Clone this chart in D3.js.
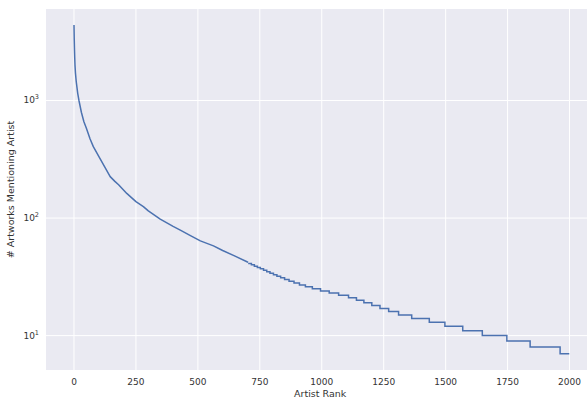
<!DOCTYPE html>
<html>
<head>
<meta charset="utf-8">
<script src="https://cdn.jsdelivr.net/npm/d3@7"></script>
<style>
  html, body { margin: 0; padding: 0; background: #ffffff; }
  svg { display: block; font-family: "DejaVu Sans", sans-serif; }
</style>
</head>
<body>
<svg id="chart" width="587" height="400"></svg>
<script>
// ---- data ----
// smooth head of the curve: artist rank and artwork count
const headRank  = [0, 1, 2, 3, 4, 6, 9, 15, 20, 30, 40, 50, 65, 78, 100, 125, 146, 165, 180, 213, 250, 280, 300, 348, 400, 429, 470, 510, 563, 600, 650, 698, 703];
const headCount = [4390, 3300, 2700, 2300, 2000, 1700, 1450, 1150, 1000, 790, 660, 580, 470, 405, 335, 270, 225, 205, 192, 162, 138, 125, 115, 98, 85, 79, 71, 64, 58, 53, 47.5, 42.5, 42];
// stepped tail: integer count and the rank where that count starts
const tailCount = [41, 40, 39, 38, 37, 36, 35, 34, 33, 32, 31, 30, 29, 28, 27, 26, 25, 24, 23, 22, 21, 20, 19, 18, 17, 16, 15, 14, 13, 12, 11, 10, 9, 8, 7];
const tailStart = [703, 716, 728, 740, 752, 765, 778, 791, 805, 819, 834, 850, 868, 888, 910, 934, 962, 995, 1030, 1068, 1108, 1140, 1170, 1202, 1235, 1270, 1310, 1363, 1434, 1497, 1569, 1648, 1747, 1841, 1962];
const lastRank = 1999;

const xTicks = [0, 250, 500, 750, 1000, 1250, 1500, 1750, 2000];
const yTicks = [10, 100, 1000];
const yTickExp = ["1", "2", "3"];
const xLabel = "Artist Rank";
const yLabel = "# Artworks Mentioning Artist";

// ---- layout ----
const svg = d3.select("#chart");
const W = 587, H = 400;
const panel = { left: 46, top: 9, bottom: 370 };

const x = d3.scaleLinear().domain([-113, 2100]).range([panel.left, 594.3]);
const y = d3.scaleLog().domain([5.1, 6000]).range([panel.bottom, panel.top]);

const g = svg.append("g");

// panel background
g.append("rect")
  .attr("x", panel.left).attr("y", panel.top)
  .attr("width", W - panel.left + 10).attr("height", panel.bottom - panel.top)
  .attr("fill", "#EAEAF2");

// grid
g.selectAll(".vgrid").data(xTicks).enter().append("line")
  .attr("x1", d => x(d)).attr("x2", d => x(d))
  .attr("y1", panel.top).attr("y2", panel.bottom)
  .attr("stroke", "#ffffff").attr("stroke-width", 1);
g.selectAll(".hgrid").data(yTicks).enter().append("line")
  .attr("x1", panel.left).attr("x2", W)
  .attr("y1", d => y(d)).attr("y2", d => y(d))
  .attr("stroke", "#ffffff").attr("stroke-width", 1);

// x tick labels
g.selectAll(".xt").data(xTicks).enter().append("text")
  .attr("x", d => x(d)).attr("y", 385)
  .attr("text-anchor", "middle")
  .attr("font-size", 9).attr("fill", "#333333")
  .text(d => d);

// y tick labels with superscript exponent
const yt = g.selectAll(".yt").data(yTicks).enter().append("text")
  .attr("x", 39).attr("y", d => y(d) + 3)
  .attr("text-anchor", "end")
  .attr("font-size", 9).attr("fill", "#333333");
yt.append("tspan").text("10");
yt.append("tspan").attr("dy", -4).attr("font-size", 6.5).text((d, i) => yTickExp[i]);

// axis labels
g.append("text")
  .attr("x", (panel.left + 594.3) / 2).attr("y", 397)
  .attr("text-anchor", "middle").attr("font-size", 9.5).attr("fill", "#333333")
  .text(xLabel);
g.append("text")
  .attr("transform", `translate(14,${(panel.top + panel.bottom) / 2}) rotate(-90)`)
  .attr("text-anchor", "middle").attr("font-size", 9.5).attr("fill", "#333333")
  .text(yLabel);

// line: head (linear) + tail (steps)
const head = headRank.map((r, i) => [r, headCount[i]]);
const tail = tailStart.map((r, i) => [r, tailCount[i]]);
tail.push([lastRank, tailCount[tailCount.length - 1]]);

const lineLin = d3.line().x(d => x(d[0])).y(d => y(d[1])).curve(d3.curveLinear);
const lineStep = d3.line().x(d => x(d[0])).y(d => y(d[1])).curve(d3.curveStepAfter);

g.append("path").attr("d", lineLin(head))
  .attr("fill", "none").attr("stroke", "#4C72B0").attr("stroke-width", 1.5)
  .attr("stroke-linejoin", "round");
g.append("path").attr("d", lineStep(tail))
  .attr("fill", "none").attr("stroke", "#4C72B0").attr("stroke-width", 1.5)
  .attr("stroke-linejoin", "miter");
</script>
</body>
</html>
